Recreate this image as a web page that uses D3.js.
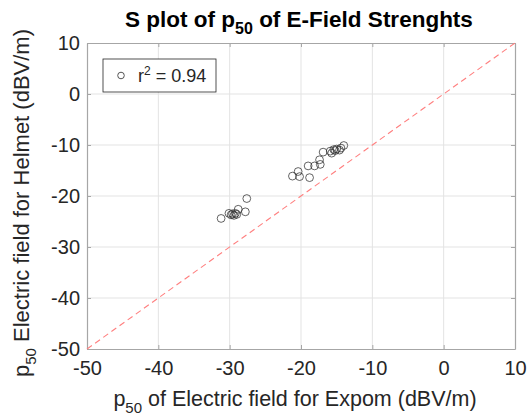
<!DOCTYPE html>
<html>
<head>
<meta charset="utf-8">
<script src="https://cdn.jsdelivr.net/npm/d3@7"></script>
<style>
  body { margin: 0; background: #fff; }
  text { font-family: "Liberation Sans", Arial, sans-serif; }
</style>
</head>
<body>
<div class="chart"></div>
<script>
// Data
const expom = [-31.2, -30.1, -29.8, -29.6, -29.4, -29.2, -29.0, -28.8, -27.8, -27.6,
  -21.2, -20.4, -20.2, -18.8, -19.0, -18.1, -17.3, -17.4, -16.9, -15.9, -15.7,
  -15.4, -15.2, -15.0, -14.6, -14.4, -14.0]
const helmet = [-24.4, -23.4, -23.7, -23.5, -23.8, -23.4, -23.6, -22.6, -23.1, -20.5,
  -16.1, -15.2, -16.2, -16.4, -14.1, -14.1, -13.8, -12.9, -11.4, -11.2, -11.6,
  -10.9, -11.1, -10.8, -11.0, -10.6, -10.1]
const xTicks = [-50, -40, -30, -20, -10, 0, 10]
const yTicks = [-50, -40, -30, -20, -10, 0, 10]
const refLine = [-50, 10]
const rSquared = "0.94"

const points = expom.map((x, i) => ({ x: x, y: helmet[i] }))
const fmt = d => String(d) // plain hyphen minus, like the original

// dimensions
let dimensions = {
  width: 528,
  height: 418,
  margin: { top: 43, right: 13, bottom: 69, left: 87 },
}
dimensions.boundedWidth = dimensions.width - dimensions.margin.left - dimensions.margin.right
dimensions.boundedHeight = dimensions.height - dimensions.margin.top - dimensions.margin.bottom

const wrapper = d3.select(".chart")
  .append("svg")
  .attr("width", dimensions.width)
  .attr("height", dimensions.height)

const bounds = wrapper.append("g")
  .attr("transform", `translate(${dimensions.margin.left},${dimensions.margin.top})`)

// scales
const xScale = d3.scaleLinear()
  .domain([-50, 10])
  .range([0, dimensions.boundedWidth])

const yScale = d3.scaleLinear()
  .domain([-50, 10])
  .range([dimensions.boundedHeight, 0])

// grid
bounds.append("g")
  .selectAll("line")
  .data(xTicks.slice(1, -1))
  .join("line")
  .attr("x1", d => xScale(d)).attr("x2", d => xScale(d))
  .attr("y1", 0).attr("y2", dimensions.boundedHeight)
  .attr("stroke", "#e3e3e3")

bounds.append("g")
  .selectAll("line")
  .data(yTicks.slice(1, -1))
  .join("line")
  .attr("y1", d => yScale(d)).attr("y2", d => yScale(d))
  .attr("x1", 0).attr("x2", dimensions.boundedWidth)
  .attr("stroke", "#e3e3e3")

// axes
const xAxis = bounds.append("g")
  .attr("transform", `translate(0,${dimensions.boundedHeight})`)
  .call(d3.axisBottom(xScale).tickValues(xTicks).tickFormat(fmt).tickSizeInner(-4).tickSizeOuter(0).tickPadding(12))
const xAxisTop = bounds.append("g")
  .call(d3.axisTop(xScale).tickValues(xTicks).tickSizeInner(-4).tickSizeOuter(0).tickFormat(""))
const yAxis = bounds.append("g")
  .call(d3.axisLeft(yScale).tickValues(yTicks).tickFormat(fmt).tickSizeInner(-4).tickSizeOuter(0).tickPadding(7))
const yAxisRight = bounds.append("g")
  .attr("transform", `translate(${dimensions.boundedWidth},0)`)
  .call(d3.axisRight(yScale).tickValues(yTicks).tickSizeInner(-4).tickSizeOuter(0).tickFormat(""))

;[xAxis, xAxisTop, yAxis, yAxisRight].forEach(a => {
  a.select(".domain").attr("stroke", "#a6a6a6").attr("stroke-width", 1.2)
  a.selectAll(".tick line").attr("stroke", "#a6a6a6")
  a.selectAll(".tick text")
    .attr("fill", "#262626")
    .style("font-size", "20px")
})

// reference line
bounds.append("line")
  .attr("x1", xScale(refLine[0])).attr("y1", yScale(refLine[0]))
  .attr("x2", xScale(refLine[1])).attr("y2", yScale(refLine[1]))
  .attr("stroke", "#ff7f7f")
  .attr("stroke-width", 1.1)
  .attr("stroke-dasharray", "6,4")

// points
bounds.append("g")
  .selectAll("circle")
  .data(points)
  .join("circle")
  .attr("cx", d => xScale(d.x))
  .attr("cy", d => yScale(d.y))
  .attr("r", 3.9)
  .attr("fill", "none")
  .attr("stroke", "#303030")
  .attr("stroke-opacity", 0.75)
  .attr("stroke-width", 1)

// legend
const legend = wrapper.append("g")
  .attr("transform", "translate(103,59)")
legend.append("rect")
  .attr("width", 113).attr("height", 33)
  .attr("fill", "#fff")
  .attr("stroke", "#262626")
  .attr("stroke-width", 0.8)
legend.append("circle")
  .attr("cx", 18).attr("cy", 16.5).attr("r", 3.3)
  .attr("fill", "none").attr("stroke", "#555")
const legendText = legend.append("text")
  .attr("x", 35).attr("y", 23)
  .attr("fill", "#262626")
  .style("font-size", "18px")
legendText.append("tspan").text("r")
legendText.append("tspan").attr("dy", -7).style("font-size", "12px").text("2")
legendText.append("tspan").attr("dy", 7).text(` = ${rSquared}`)

// title
const title = wrapper.append("text")
  .attr("x", dimensions.margin.left + dimensions.boundedWidth / 2 - 2)
  .attr("y", 27)
  .attr("text-anchor", "middle")
  .attr("fill", "#000")
  .style("font-size", "22.5px")
  .style("font-weight", "bold")
title.append("tspan").text("S plot of p")
title.append("tspan").attr("dy", 7).style("font-size", "16px").text("50")
title.append("tspan").attr("dy", -7).text(" of E-Field Strenghts")

// x label
const xLabel = wrapper.append("text")
  .attr("x", dimensions.margin.left + dimensions.boundedWidth / 2 - 6)
  .attr("y", 406)
  .attr("text-anchor", "middle")
  .attr("fill", "#262626")
  .style("font-size", "21.5px")
xLabel.append("tspan").text("p")
xLabel.append("tspan").attr("dy", 7).style("font-size", "15px").text("50")
xLabel.append("tspan").attr("dy", -7).text(" of Electric field for Expom (dBV/m)")

// y label
const yLabel = wrapper.append("text")
  .attr("transform", `translate(29,${dimensions.margin.top + dimensions.boundedHeight / 2 + 7}) rotate(-90)`)
  .attr("text-anchor", "middle")
  .attr("fill", "#262626")
  .style("font-size", "22px")
yLabel.append("tspan").text("p")
yLabel.append("tspan").attr("dy", 7).style("font-size", "15px").text("50")
yLabel.append("tspan").attr("dy", -7).text(" Electric field for Helmet (dBV/m)")
</script>
</body>
</html>
